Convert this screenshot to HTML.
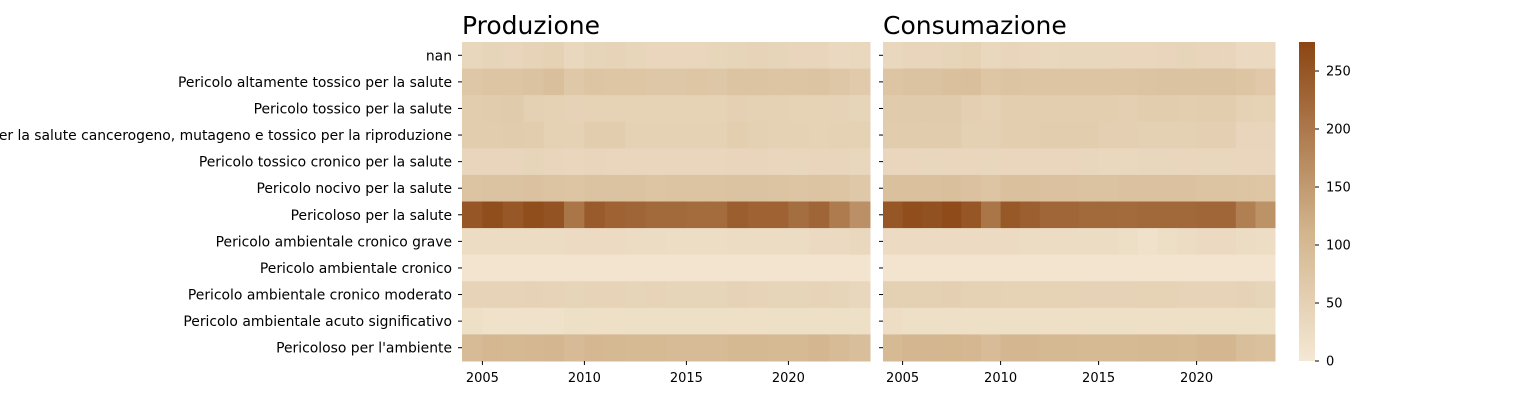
<!DOCTYPE html>
<html><head><meta charset="utf-8"><style>
body{margin:0;background:#fff;overflow:hidden}
svg{display:block;font-family:"DejaVu Sans","Liberation Sans",sans-serif}
</style></head><body>
<svg id="c" width="1539" height="400"></svg>
<script>
const years=[2004,2005,2006,2007,2008,2009,2010,2011,2012,2013,2014,2015,2016,2017,2018,2019,2020,2021,2022,2023];
const categories=["nan","Pericolo altamente tossico per la salute","Pericolo tossico per la salute","Pericolo per la salute cancerogeno, mutageno e tossico per la riproduzione","Pericolo tossico cronico per la salute","Pericolo nocivo per la salute","Pericoloso per la salute","Pericolo ambientale cronico grave","Pericolo ambientale cronico","Pericolo ambientale cronico moderato","Pericolo ambientale acuto significativo","Pericoloso per l'ambiente"];
const prodValues=[
[36,42,40,44,50,34,42,44,39,38,38,38,39,42,44,42,40,40,32,34],
[72,78,78,82,88,70,78,74,74,72,72,74,72,80,80,78,78,80,72,64],
[58,60,62,52,50,46,48,48,48,48,48,48,48,51,50,50,48,48,46,42],
[58,58,60,58,50,50,58,58,50,50,50,50,50,56,52,50,50,48,50,50],
[40,40,40,42,40,38,40,38,38,38,38,38,38,40,40,38,36,40,40,36],
[80,82,82,84,80,76,82,82,82,78,80,80,80,82,82,80,78,80,78,70],
[250,262,248,262,255,205,242,232,228,222,222,218,218,238,232,232,215,228,196,164],
[26,26,26,26,26,28,28,28,26,26,24,24,24,26,26,26,26,30,30,34],
[8,8,8,8,8,8,8,8,8,8,8,8,8,8,8,8,8,8,8,8],
[44,44,44,46,44,42,44,44,42,44,42,42,42,46,44,42,42,44,42,36],
[20,16,16,16,16,20,20,20,20,20,20,20,20,20,20,20,20,20,20,20],
[96,104,102,104,106,96,104,102,100,100,96,96,98,102,102,100,100,106,96,90]];
const consValues=[
[34,40,40,42,48,34,40,38,34,36,36,36,38,38,40,42,40,40,30,30],
[76,82,82,86,88,74,80,76,76,76,76,76,76,80,82,82,82,82,76,68],
[62,62,62,62,54,50,56,56,56,56,56,56,54,58,58,56,58,58,50,48],
[60,60,60,60,52,52,56,56,58,58,58,54,54,52,52,52,54,54,40,40],
[38,38,36,38,38,36,38,38,38,38,36,34,34,36,36,38,36,36,38,38],
[86,86,86,88,84,78,86,86,84,84,82,82,84,84,84,84,80,80,78,74],
[250,262,258,266,250,205,246,236,226,226,222,222,220,224,224,224,226,226,190,162],
[28,28,28,28,28,28,28,26,26,26,26,26,22,16,22,26,30,30,26,24],
[8,8,8,8,8,8,8,8,8,8,8,8,8,8,8,8,8,8,8,8],
[52,52,52,54,50,50,48,48,48,48,46,46,46,48,48,44,44,44,46,42],
[24,20,20,20,20,20,20,20,20,20,20,20,20,20,20,20,20,20,20,20],
[100,106,106,108,104,94,106,106,102,102,100,100,100,102,102,100,106,106,90,86]];
const xTicks=[2005,2010,2015,2020];
const cbTicks=[0,50,100,150,200,250];
const vmax=275;
const NS="http://www.w3.org/2000/svg";
const svgEl=document.getElementById('c');
function mk(t,a,p){const e=document.createElementNS(NS,t);for(const k in a)e.setAttribute(k,a[k]);(p||svgEl).appendChild(e);return e;}
const stops=[[0,[244,232,212]],[0.4,[211,181,142]],[1,[139,69,19]]];
function col(v){const t=Math.max(0,Math.min(1,v/vmax));let a=stops[0],b=stops[1];if(t>stops[1][0]){a=stops[1];b=stops[2];}
  const f=(t-a[0])/(b[0]-a[0]);return 'rgb('+a[1].map((x,i)=>Math.round(x+(b[1][i]-x)*f)).join(',')+')';}
const topY=42,botY=361,rowH=(botY-topY)/categories.length;
function yRow(i){return topY+i*rowH;}
function panel(x0,x1,vals,title,name,labels){
  const g=mk('g',{});
  
  
  const xs=y=>x0+(y-years[0])*(x1-x0)/years.length;
  vals.forEach((row,i)=>row.forEach((v,j)=>{
    const r=mk('rect',{x:xs(years[j]),y:yRow(i),width:(x1-x0)/years.length+0.5,height:rowH+0.5,fill:col(v)},g);
    
    
  }));
  const t=mk('text',{x:x0,y:34,'font-size':25,fill:'#000'},g);t.textContent=title;
  
  
  xTicks.forEach(y=>{const x=xs(y);mk('line',{x1:x,x2:x,y1:botY,y2:botY+4,stroke:'#000'},g);
    const tt=mk('text',{x:x,y:botY+21,'font-size':13,'text-anchor':'middle'},g);tt.textContent=y;
    
    });
  categories.forEach((c,i)=>{const y=yRow(i)+rowH/2;mk('line',{x1:x0-4,x2:x0,y1:y,y2:y,stroke:'#000'},g);
    if(labels){const tt=mk('text',{x:x0-10,y:y+5,'font-size':13.9,'text-anchor':'end'},g);tt.textContent=c;
      
      }});
}
panel(462,870,prodValues,'Produzione','produzione-heatmap',true);
panel(883,1275,consValues,'Consumazione','consumazione-heatmap',false);
const cb=mk('g',{});


const defs=mk('defs',{});const lg=mk('linearGradient',{id:'gr',x1:0,y1:1,x2:0,y2:0},defs);
stops.forEach(s=>mk('stop',{offset:s[0],'stop-color':col(s[0]*vmax)},lg));
mk('rect',{x:1299,y:topY,width:16,height:botY-topY,fill:'url(#gr)'},cb);
cbTicks.forEach(v=>{const y=botY-v/vmax*(botY-topY);mk('line',{x1:1315,x2:1319,y1:y,y2:y,stroke:'#000'},cb);
  const t=mk('text',{x:1326,y:y+4.5,'font-size':13},cb);t.textContent=v;
  
  });
</script>
</body></html>
